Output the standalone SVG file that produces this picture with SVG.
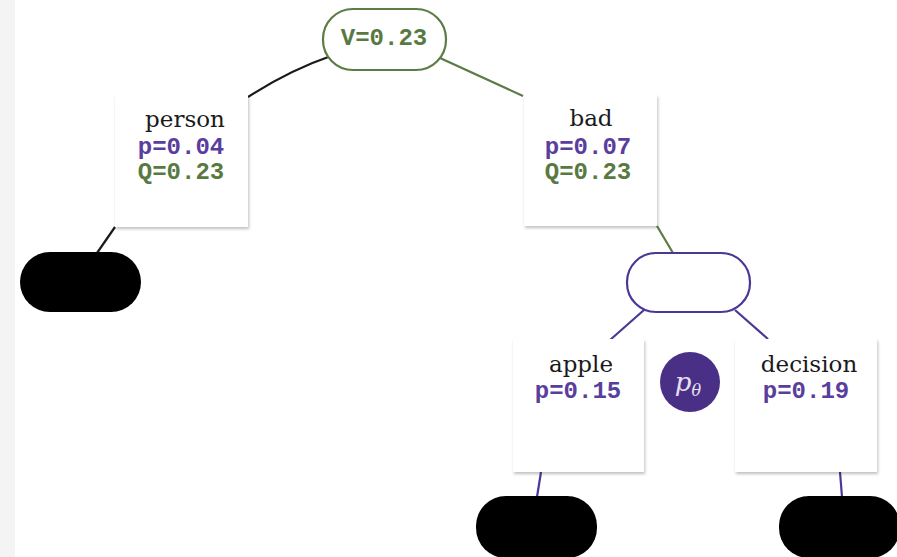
<svg xmlns="http://www.w3.org/2000/svg" width="897" height="557" viewBox="0 0 897 557">
  <defs>
    <filter id="shadow" x="-10%" y="-10%" width="125%" height="125%">
      <feDropShadow dx="1" dy="2" stdDeviation="1.5" flood-color="#000" flood-opacity="0.25"/>
    </filter>
  </defs>
  <style>
    .box { fill: #ffffff; filter: url(#shadow); }
    .word { font-family: "DejaVu Serif", "Liberation Serif", serif; font-size: 23px; fill: #1a1a1a; text-anchor: middle; }
    .mono { font-family: "Liberation Mono", "DejaVu Sans Mono", monospace; font-size: 24px; font-weight: bold; text-anchor: middle; }
    .p { fill: #5a3e9e; }
    .q { fill: #587a42; }
    .vnode { fill: #ffffff; stroke: #5b7c45; stroke-width: 2.2; }
    .pnode { fill: #ffffff; stroke: #4d3794; stroke-width: 2.2; }
    .leaf { fill: #000000; }
    .edge { fill: none; stroke-width: 2.2; }
    .e-black { stroke: #1a1a1a; }
    .e-green { stroke: #5b7c45; }
    .e-purple { stroke: #4d3794; }
  </style>

  <rect x="0" y="0" width="897" height="557" fill="#ffffff"/>
  <rect x="0" y="0" width="15" height="557" fill="#f4f4f4"/>

  <g id="connectors">
    <path class="edge e-black" d="M248,97 Q290,70 331,56"/>
    <path class="edge e-green" d="M440,58 L523,96"/>
    <path class="edge e-black" d="M115,227 L97,253"/>
    <path class="edge e-green" d="M657,226 L673,253"/>
    <path class="edge e-purple" d="M644,310 L610,340"/>
    <path class="edge e-purple" d="M735,310 L768,339"/>
    <path class="edge e-purple" d="M541,472 L537,497"/>
    <path class="edge e-purple" d="M840,472 L842,497"/>
  </g>

  <g id="root">
    <rect class="vnode" x="323" y="9" width="123" height="61" rx="30"/>
    <text class="mono q" x="384" y="45">V=0.23</text>
  </g>

  <g id="person">
    <rect class="box" x="115" y="95" width="133" height="132"/>
    <text class="word" x="185" y="127">person</text>
    <text class="mono p" x="181" y="154">p=0.04</text>
    <text class="mono q" x="181" y="179">Q=0.23</text>
  </g>

  <g id="bad">
    <rect class="box" x="524" y="95" width="133" height="131"/>
    <text class="word" x="591" y="126">bad</text>
    <text class="mono p" x="588" y="154">p=0.07</text>
    <text class="mono q" x="588" y="179">Q=0.23</text>
  </g>

  <g id="person-leaf">
    <rect class="leaf" x="20" y="252" width="121" height="60" rx="30"/>
  </g>

  <g id="policy">
    <rect class="pnode" x="627" y="253" width="123" height="59" rx="29"/>
  </g>

  <g id="apple">
    <rect class="box" x="513" y="339" width="131" height="133"/>
    <text class="word" x="581" y="372">apple</text>
    <text class="mono p" x="578" y="398">p=0.15</text>
  </g>

  <g id="decision">
    <rect class="box" x="735" y="339" width="142" height="133"/>
    <text class="word" x="809" y="372">decision</text>
    <text class="mono p" x="806" y="398">p=0.19</text>
  </g>

  <g id="p-theta">
    <circle cx="690" cy="382" r="30" fill="#4a2f86"/>
    <text x="688" y="391" font-family="DejaVu Serif, Liberation Serif, serif" font-style="italic" font-size="26" fill="#e6e0f2" text-anchor="middle">p<tspan font-size="16" dy="5">θ</tspan></text>
  </g>

  <g id="apple-leaf">
    <rect class="leaf" x="476" y="496" width="121" height="62" rx="30"/>
  </g>

  <g id="decision-leaf">
    <rect class="leaf" x="779" y="496" width="121" height="62" rx="30"/>
  </g>
</svg>
